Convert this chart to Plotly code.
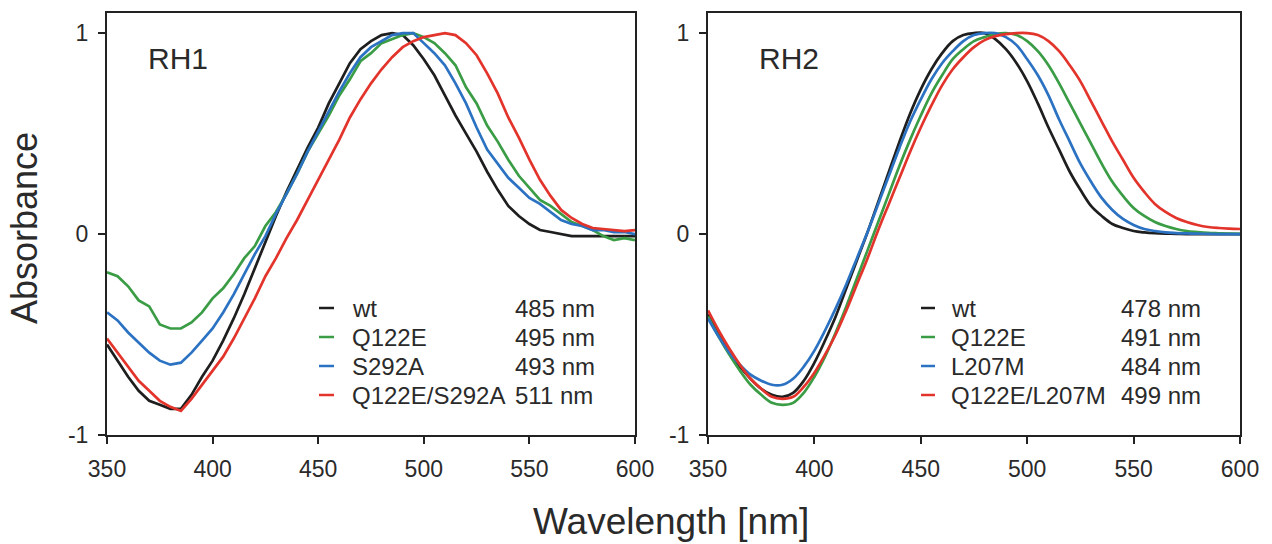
import plotly.graph_objects as go

# ---------------- data ----------------
wl = list(range(350, 601, 5))

# RH1 panel
rh1_wt = [-0.55, -0.63, -0.71, -0.78, -0.83, -0.85, -0.87, -0.87, -0.80, -0.71,
          -0.63, -0.53, -0.42, -0.30, -0.17, -0.04, 0.09, 0.21, 0.32, 0.43,
          0.53, 0.65, 0.75, 0.85, 0.92, 0.96, 0.99, 1.00, 0.99, 0.94,
          0.87, 0.79, 0.69, 0.59, 0.50, 0.41, 0.31, 0.22, 0.14, 0.09,
          0.05, 0.02, 0.01, 0.00, -0.01, -0.01, -0.01, -0.01, -0.01, -0.01, -0.01]
rh1_q122e = [-0.19, -0.21, -0.26, -0.33, -0.36, -0.45, -0.47, -0.47, -0.44, -0.39,
             -0.32, -0.27, -0.20, -0.12, -0.06, 0.04, 0.11, 0.20, 0.30, 0.41,
             0.50, 0.59, 0.69, 0.77, 0.86, 0.90, 0.95, 0.97, 0.99, 1.00,
             0.98, 0.95, 0.90, 0.84, 0.73, 0.65, 0.54, 0.46, 0.37, 0.29,
             0.23, 0.17, 0.14, 0.10, 0.06, 0.04, 0.02, -0.01, -0.03, -0.02, -0.03]
rh1_s292a = [-0.39, -0.43, -0.49, -0.54, -0.59, -0.63, -0.65, -0.64, -0.59, -0.53,
             -0.47, -0.39, -0.30, -0.20, -0.10, -0.01, 0.10, 0.20, 0.30, 0.41,
             0.51, 0.61, 0.71, 0.80, 0.88, 0.93, 0.96, 0.99, 1.00, 1.00,
             0.95, 0.90, 0.84, 0.75, 0.65, 0.53, 0.42, 0.35, 0.28, 0.23,
             0.18, 0.15, 0.11, 0.07, 0.05, 0.04, 0.02, 0.02, 0.01, 0.01, 0.00]
rh1_double = [-0.52, -0.59, -0.66, -0.73, -0.78, -0.83, -0.86, -0.88, -0.82, -0.75,
              -0.68, -0.61, -0.52, -0.42, -0.32, -0.21, -0.12, -0.02, 0.07, 0.17,
              0.27, 0.37, 0.47, 0.58, 0.67, 0.75, 0.82, 0.88, 0.93, 0.96,
              0.98, 0.99, 1.00, 0.99, 0.95, 0.89, 0.80, 0.70, 0.58, 0.48,
              0.37, 0.27, 0.19, 0.12, 0.08, 0.05, 0.03, 0.025, 0.02, 0.015, 0.02]

# RH2 panel
rh2_wt = [-0.40, -0.50, -0.59, -0.66, -0.72, -0.77, -0.80, -0.81, -0.79, -0.73,
          -0.64, -0.53, -0.41, -0.27, -0.13, 0.01, 0.16, 0.31, 0.46, 0.60,
          0.72, 0.82, 0.90, 0.96, 0.99, 1.00, 1.00, 0.97, 0.92, 0.85,
          0.76, 0.65, 0.53, 0.42, 0.31, 0.22, 0.14, 0.09, 0.05, 0.03,
          0.015, 0.008, 0.004, 0.002, 0.001, 0.0, 0.0, 0.0, 0.0, 0.0, 0.0]
rh2_q122e = [-0.41, -0.51, -0.60, -0.68, -0.75, -0.80, -0.84, -0.85, -0.84, -0.79,
             -0.71, -0.61, -0.49, -0.36, -0.22, -0.08, 0.06, 0.20, 0.34, 0.47,
             0.59, 0.70, 0.79, 0.87, 0.92, 0.96, 0.98, 0.995, 1.00, 0.99,
             0.96, 0.91, 0.84, 0.75, 0.65, 0.55, 0.45, 0.35, 0.26, 0.19,
             0.13, 0.09, 0.06, 0.04, 0.025, 0.015, 0.01, 0.006, 0.004, 0.002, 0.001]
rh2_l207m = [-0.42, -0.51, -0.59, -0.65, -0.70, -0.73, -0.75, -0.75, -0.72, -0.66,
             -0.58, -0.48, -0.37, -0.25, -0.12, 0.01, 0.15, 0.29, 0.43, 0.56,
             0.67, 0.77, 0.85, 0.91, 0.96, 0.99, 1.00, 1.00, 0.98, 0.94,
             0.87, 0.79, 0.69, 0.57, 0.46, 0.35, 0.26, 0.18, 0.12, 0.075,
             0.045, 0.025, 0.015, 0.008, 0.005, 0.003, 0.002, 0.001, 0.0, 0.0, 0.0]
rh2_double = [-0.38, -0.48, -0.57, -0.65, -0.72, -0.77, -0.81, -0.82, -0.81, -0.76,
              -0.69, -0.60, -0.50, -0.38, -0.25, -0.12, 0.02, 0.15, 0.28, 0.41,
              0.53, 0.64, 0.74, 0.82, 0.88, 0.93, 0.965, 0.985, 0.995, 1.00,
              1.00, 0.99, 0.96, 0.91, 0.84, 0.76, 0.66, 0.56, 0.46, 0.37,
              0.28, 0.21, 0.15, 0.11, 0.08, 0.06, 0.045, 0.035, 0.03, 0.027, 0.025]

rh1_names = ["wt", "Q122E", "S292A", "Q122E/S292A"]
rh1_lmax = ["485 nm", "495 nm", "493 nm", "511 nm"]
rh2_names = ["wt", "Q122E", "L207M", "Q122E/L207M"]
rh2_lmax = ["478 nm", "491 nm", "484 nm", "499 nm"]
panel_titles = ["RH1", "RH2"]

x_ticks = [350, 400, 450, 500, 550, 600]
y_ticks = [-1, 0, 1]
y_ticktext = ["-1", "0", "1"]

colors = ["#1e1e1e", "#3a9d45", "#2b72c2", "#e3342c"]
# --------------------------------------

FONT = "Liberation Sans, Arial, sans-serif"
W, H = 1272, 544
L, R, T, B = 107, 1240, 13, 435      # plot-area edges in page pixels
PW = R - L
dom1 = [0, (635 - L) / PW]
dom2 = [(708 - L) / PW, 1]

fig = go.Figure()
rh1_series = [rh1_wt, rh1_q122e, rh1_s292a, rh1_double]
rh2_series = [rh2_wt, rh2_q122e, rh2_l207m, rh2_double]

for s, nm, c in zip(rh1_series, rh1_names, colors):
    fig.add_trace(go.Scatter(x=wl, y=s, mode="lines", name=nm, showlegend=False,
                             line=dict(color=c, width=2.7), xaxis="x", yaxis="y"))
for s, nm, c in zip(rh2_series, rh2_names, colors):
    fig.add_trace(go.Scatter(x=wl, y=s, mode="lines", name=nm, showlegend=False,
                             line=dict(color=c, width=2.7, shape="spline"), xaxis="x2", yaxis="y2"))

axis_common = dict(showgrid=False, zeroline=False, showline=True, linecolor="#222222",
                   linewidth=2, mirror=True, ticks="outside", ticklen=7, tickwidth=2,
                   tickcolor="#222222", tickfont=dict(family=FONT, size=23, color="#2a2a2a"))

fig.update_layout(
    width=W, height=H,
    margin=dict(l=L, r=W - R, t=T, b=H - B),
    paper_bgcolor="white", plot_bgcolor="white",
    showlegend=False,
    xaxis=dict(domain=dom1, range=[350, 600], tickvals=x_ticks, anchor="y",
               ticklabelstandoff=5, **axis_common),
    yaxis=dict(domain=[0, 1], range=[-1, 1.1], tickvals=y_ticks, ticktext=y_ticktext,
               anchor="x", ticklabelstandoff=5, **axis_common),
    xaxis2=dict(domain=dom2, range=[350, 600], tickvals=x_ticks, anchor="y2",
                ticklabelstandoff=5, **axis_common),
    yaxis2=dict(domain=[0, 1], range=[-1, 1.1], tickvals=y_ticks, ticktext=y_ticktext,
                anchor="x2", ticklabelstandoff=5, **axis_common),
)

ann = []
shapes = []

def px2dom(px, py, left, right):
    """page pixels -> axis-domain fraction"""
    return (px - left) / (right - left), (B - py) / (B - T)

rows_py = [308, 337, 366, 395]
panels = [
    dict(xr="x domain", yr="y domain", left=107, right=635, names=rh1_names, vals=rh1_lmax,
         dash=(319, 334), name_x=350, val_x=513, title=panel_titles[0], title_x=146),
    dict(xr="x2 domain", yr="y2 domain", left=708, right=1240, names=rh2_names, vals=rh2_lmax,
         dash=(921, 935), name_x=949, val_x=1119, title=panel_titles[1], title_x=757),
]
for p in panels:
    tx, ty = px2dom(p["title_x"], 58, p["left"], p["right"])
    ann.append(dict(text=p["title"], xref=p["xr"], yref=p["yr"], x=tx, y=ty,
                    xanchor="left", yanchor="middle", showarrow=False,
                    font=dict(family=FONT, size=30, color="#2a2a2a")))
    for i, (nm, v) in enumerate(zip(p["names"], p["vals"])):
        py = rows_py[i]
        x0, y0 = px2dom(p["dash"][0], py, p["left"], p["right"])
        x1, _ = px2dom(p["dash"][1], py, p["left"], p["right"])
        shapes.append(dict(type="line", xref=p["xr"], yref=p["yr"], x0=x0, x1=x1, y0=y0, y1=y0,
                           line=dict(color=colors[i], width=2.5)))
        nx, ny = px2dom(p["name_x"], py, p["left"], p["right"])
        ann.append(dict(text=nm, xref=p["xr"], yref=p["yr"], x=nx, y=ny, xanchor="left",
                        yanchor="middle", showarrow=False,
                        font=dict(family=FONT, size=24, color="#2a2a2a")))
        vx, vy = px2dom(p["val_x"], py, p["left"], p["right"])
        ann.append(dict(text=v, xref=p["xr"], yref=p["yr"], x=vx, y=vy, xanchor="left",
                        yanchor="middle", showarrow=False,
                        font=dict(family=FONT, size=24, color="#2a2a2a")))

def px2paper(px, py):
    return (px - L) / PW, (B - py) / (B - T)

ax_x, ax_y = px2paper(24, 228)
ann.append(dict(text="Absorbance", xref="paper", yref="paper", x=ax_x, y=ax_y,
                xanchor="center", yanchor="middle", textangle=-90, showarrow=False,
                font=dict(family=FONT, size=36, color="#2a2a2a")))
wx, wy = px2paper(671, 521)
ann.append(dict(text="Wavelength [nm]", xref="paper", yref="paper", x=wx, y=wy,
                xanchor="center", yanchor="middle", showarrow=False,
                font=dict(family=FONT, size=37, color="#2a2a2a")))

fig.update_layout(annotations=ann, shapes=shapes)
fig.write_html("out.html", config={"displayModeBar": False},
               post_script="document.body.style.margin='0';document.body.style.overflow='hidden';")
